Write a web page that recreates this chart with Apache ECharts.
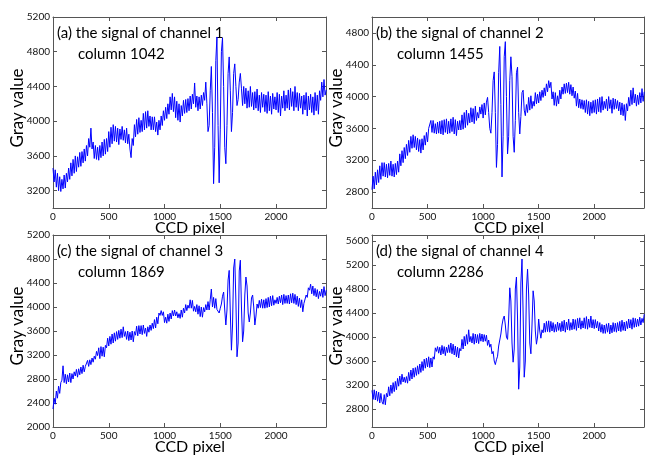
<!DOCTYPE html>
<html>
<head>
<meta charset="utf-8">
<script src="https://cdn.jsdelivr.net/npm/echarts@6/dist/echarts.min.js"></script>
<style>
  html, body { margin: 0; padding: 0; background: #fff; }
  #chart { width: 645px; height: 458px; }
</style>
</head>
<body>
<div id="chart"></div>
<script>
// sampling step along the CCD (pixels) and axis extent
const STEP = 10;
const X_MAX = 2448;
const xTicks = [0, 500, 1000, 1500, 2000];

// channel 1, column 1042 (one value every STEP pixels)
const grayA = [
  3460, 3300, 3440, 3240, 3400, 3200, 3360, 3190, 3330, 3220,
  3380, 3230, 3400, 3300, 3460, 3330, 3520, 3370, 3560, 3400,
  3600, 3420, 3590, 3470, 3640, 3480, 3650, 3520, 3680, 3540,
  3720, 3600, 3800, 3700, 3920, 3680, 3760, 3570, 3720, 3560,
  3700, 3550, 3720, 3580, 3760, 3600, 3790, 3620, 3800, 3650,
  3880, 3700, 3930, 3740, 3960, 3770, 3940, 3760, 3920, 3730,
  3910, 3790, 3940, 3780, 3900, 3750, 3920, 3740, 3850, 3680,
  3580, 3800, 3720, 3960, 3820, 4020, 3850, 4040, 3870, 4010,
  3880, 4090, 3900, 4110, 3920, 4120, 3940, 4060, 3900, 4050,
  3900, 4050, 3880, 3990, 3840, 4010, 3900, 4060, 3950, 4120,
  4010, 4160, 4030, 4200, 4080, 4280, 4130, 4320, 4110, 4280,
  4040, 4230, 4010, 4200, 3990, 4180, 4060, 4240, 4090, 4250,
  4100, 4260, 4120, 4290, 4140, 4310, 4200, 4440, 4160, 4290,
  4120, 4280, 4140, 4300, 4180, 4330, 4240, 4450, 4200, 3880,
  3950, 4350, 4630, 4100, 3280, 3700, 4700, 4970, 3950, 3290,
  3900, 4800, 4960, 4400, 3700, 3510, 3950, 4550, 4740, 4350,
  3880, 4100, 4550, 4660, 4400, 4180, 4250, 4450, 4550, 4380,
  4180, 4400, 4200, 4380, 4150, 4350, 4160, 4400, 4170, 4330,
  4130, 4340, 4150, 4370, 4120, 4300, 4100, 4330, 4160, 4310,
  4110, 4300, 4090, 4340, 4120, 4290, 4080, 4320, 4140, 4280,
  4130, 4330, 4100, 4310, 4060, 4290, 4150, 4350, 4120, 4300,
  4150, 4360, 4130, 4380, 4170, 4340, 4120, 4400, 4160, 4330,
  4120, 4320, 4150, 4290, 4080, 4300, 4130, 4330, 4060, 4290,
  4130, 4310, 4100, 4280, 4070, 4330, 4120, 4300, 4080, 4350,
  4240, 4450, 4280, 4480, 4300, 4360
];

// channel 2, column 1455
const grayB = [
  2830, 3000, 2840, 3050, 2890, 3080, 2920, 3130, 2960, 3170,
  3000, 3170, 2990, 3150, 2980, 3160, 3010, 3190, 3000, 3150,
  2990, 3160, 3020, 3190, 3050, 3280, 3130, 3320, 3170, 3360,
  3220, 3400, 3260, 3450, 3300, 3500, 3350, 3520, 3360, 3500,
  3330, 3480, 3310, 3460, 3290, 3470, 3330, 3510, 3390, 3550,
  3430, 3600, 3580, 3700, 3550, 3700, 3540, 3660, 3530, 3680,
  3540, 3690, 3530, 3700, 3520, 3710, 3550, 3720, 3530, 3690,
  3540, 3720, 3560, 3740, 3530, 3710, 3510, 3690, 3580, 3700,
  3580, 3770, 3590, 3800, 3610, 3830, 3640, 3790, 3670, 3860,
  3680, 3850, 3660, 3880, 3700, 3800, 3730, 3870, 3780, 3900,
  3730, 3920, 3770, 3930, 3990, 3800, 3600, 3540, 3800, 4200,
  4310, 3800, 3110, 3400, 4300, 4630, 3900, 2990, 3500, 4500,
  4690, 4000, 3280, 3500, 4200, 4500, 4250, 3500, 3300, 3700,
  4300, 4370, 3800, 3530, 3750, 4050, 4080, 3830, 3760, 3900,
  3800, 3990, 3830, 4010, 3850, 3940, 3880, 4050, 3910, 4030,
  3920, 4060, 3950, 4080, 3990, 4110, 4010, 4160, 4060, 4200,
  4110, 4180, 3970, 4060, 3890, 4050, 3880, 4010, 3910, 4080,
  3970, 4120, 4030, 4160, 4040, 4170, 4050, 4180, 4030, 4150,
  4010, 4120, 3980, 4070, 3880, 4040, 3860, 3970, 3850, 3960,
  3840, 3950, 3800, 3960, 3780, 3940, 3760, 3930, 3790, 3950,
  3800, 3960, 3780, 3970, 3810, 3990, 3800, 4000, 3830, 3940,
  3850, 3970, 3820, 4000, 3850, 3960, 3790, 3980, 3840, 3970,
  3850, 3950, 3820, 3930, 3770, 3920, 3760, 3900, 3700, 3910,
  3820, 3990, 3880, 4080, 3900, 4110, 3920, 4030, 3880, 4020,
  3900, 4050, 3920, 4100, 3940, 4060
];

// channel 3, column 1869
const grayC = [
  2300, 2480, 2380, 2600, 2480, 2680, 2560, 2740, 2780, 3020,
  2740, 2880, 2720, 2870, 2750, 2900, 2740, 2890, 2800, 2920,
  2850, 2960, 2830, 2970, 2870, 3000, 2890, 3030, 2920, 3010,
  2990, 3110, 3010, 3120, 3040, 3150, 3080, 3180, 3130, 3260,
  3190, 3320, 3140, 3340, 3180, 3330, 3170, 3360, 3320, 3480,
  3350, 3510, 3380, 3550, 3400, 3570, 3430, 3590, 3460, 3610,
  3480, 3630, 3490, 3670, 3510, 3590, 3460, 3600, 3440, 3580,
  3450, 3600, 3420, 3590, 3530, 3680, 3520, 3690, 3550, 3690,
  3540, 3700, 3560, 3650, 3510, 3670, 3580, 3700, 3610, 3730,
  3640, 3790, 3650, 3830, 3720, 3900, 3860, 3940, 3860, 3920,
  3740, 3830, 3730, 3880, 3760, 3900, 3800, 3940, 3850, 3950,
  3850, 3920, 3820, 3890, 3810, 3950, 3830, 3980, 3900, 4040,
  3940, 4030, 3980, 4120, 3980, 4110, 3930, 4010, 3920, 4040,
  3880, 4020, 3840, 4000, 3830, 3990, 3920, 4040, 3950, 4090,
  3950, 4120, 4300, 4000, 4160, 3980, 4140, 3960, 3990, 3900,
  3980, 4050, 4180, 4250, 3950, 3700, 3950, 4450, 4610, 3900,
  3280, 3700, 4650, 4800, 4100, 3170, 3400, 4600, 4780, 4000,
  3420, 3600, 4200, 4500, 4350, 3900, 3750, 3900, 4150, 4200,
  4000, 3700, 3850, 4050, 3980, 4110, 3990, 4130, 3980, 4120,
  3980, 4140, 3990, 4160, 4000, 4180, 4020, 4190, 4030, 4120,
  4060, 4160, 4050, 4180, 4070, 4200, 4040, 4210, 4060, 4190,
  4060, 4200, 4050, 4220, 4070, 4230, 4060, 4210, 4040, 4180,
  4010, 4150, 3990, 4120, 3920, 4060, 4030, 4200, 4160, 4320,
  4280, 4380, 4220, 4350, 4190, 4310, 4170, 4290, 4140, 4260,
  4180, 4300, 4160, 4340, 4190, 4280
];

// channel 4, column 2286
const grayD = [
  3110, 2960, 3120, 2950, 3100, 2930, 3080, 2900, 3060, 2920,
  2880, 3040, 2870, 3060, 3000, 3170, 3020, 3200, 3060, 3240,
  3090, 3260, 3120, 3310, 3180, 3350, 3210, 3380, 3250, 3330,
  3240, 3340, 3230, 3410, 3270, 3450, 3300, 3480, 3330, 3490,
  3360, 3520, 3380, 3550, 3410, 3590, 3440, 3630, 3480, 3650,
  3500, 3670, 3490, 3650, 3500, 3670, 3630, 3820, 3760, 3840,
  3730, 3830, 3700, 3860, 3720, 3840, 3690, 3830, 3740, 3870,
  3740, 3900, 3720, 3880, 3700, 3850, 3670, 3830, 3650, 3810,
  3770, 3960, 3800, 4010, 3850, 4040, 3880, 4120, 3920, 4010,
  3900, 4060, 3880, 4050, 3900, 4040, 3890, 4060, 3930, 4050,
  3920, 4040, 3930, 4030, 3860, 3950, 3830, 3880, 3720, 3760,
  3600, 3540, 3620, 3680, 3850, 3950, 4050, 4200, 4300, 4350,
  4200, 4000, 3960, 4300, 4820, 4600, 3900, 3580, 3800, 4800,
  5000, 4300, 3130, 3500, 4900, 5300, 4400, 3330, 3600, 4800,
  5130, 4700, 3900, 3720, 4200, 4770, 4600, 4100, 3880, 4000,
  4300, 4100, 3980, 4120, 4070, 4230, 4080, 4260, 4090, 4270,
  4080, 4260, 4100, 4240, 4080, 4210, 4090, 4250, 4110, 4230,
  4090, 4260, 4100, 4280, 4080, 4250, 4120, 4300, 4110, 4240,
  4120, 4300, 4130, 4290, 4110, 4310, 4150, 4320, 4130, 4270,
  4150, 4320, 4140, 4340, 4130, 4300, 4160, 4350, 4150, 4290,
  4140, 4290, 4150, 4260, 4100, 4240, 4080, 4210, 4060, 4200,
  4060, 4220, 4080, 4230, 4050, 4200, 4070, 4240, 4090, 4230,
  4080, 4240, 4100, 4260, 4090, 4280, 4110, 4250, 4100, 4260,
  4140, 4300, 4150, 4290, 4130, 4320, 4160, 4310, 4170, 4300,
  4180, 4330, 4200, 4310, 4240, 4380
];

// y tick labels of each panel
const yTicksA = [3200, 3600, 4000, 4400, 4800, 5200];
const yTicksB = [2800, 3200, 3600, 4000, 4400, 4800];
const yTicksC = [2000, 2400, 2800, 3200, 3600, 4000, 4400, 4800, 5200];
const yTicksD = [2800, 3200, 3600, 4000, 4400, 4800, 5200, 5600];

const titles = ['(a) the signal of channel 1', '(b) the signal of channel 2',
                '(c) the signal of channel 3', '(d) the signal of channel 4'];
const columns = ['column 1042', 'column 1455', 'column 1869', 'column 2286'];

const FONT = 'Lato';
const FRAME = '#555';

const panels = [
  { left: 53,  top: 17,  w: 273, h: 191, data: grayA, ymin: 3000, ymax: 5200, yticks: yTicksA },
  { left: 372, top: 17,  w: 272, h: 191, data: grayB, ymin: 2600, ymax: 5000, yticks: yTicksB },
  { left: 53,  top: 235, w: 273, h: 192, data: grayC, ymin: 2000, ymax: 5200, yticks: yTicksC },
  { left: 372, top: 235, w: 272, h: 192, data: grayD, ymin: 2500, ymax: 5700, yticks: yTicksD }
];

const grids = [], xAxes = [], yAxes = [], series = [], texts = [];
const plain = v => String(v);

panels.forEach((p, i) => {
  grids.push({ left: p.left, top: p.top, width: p.w, height: p.h });

  const line = { show: true, onZero: false, lineStyle: { color: FRAME, width: 1 } };
  const tickX = { inside: true, length: 4, customValues: xTicks, lineStyle: { color: FRAME } };
  const tickY = { inside: true, length: 4, customValues: p.yticks, lineStyle: { color: FRAME } };
  const label = { fontSize: 10, color: '#111', fontFamily: FONT, formatter: plain };

  xAxes.push({
    gridIndex: i, type: 'value', min: 0, max: X_MAX, position: 'bottom',
    axisLine: line, axisTick: tickX, splitLine: { show: false },
    axisLabel: Object.assign({ customValues: xTicks, margin: 4 }, label)
  });
  xAxes.push({
    gridIndex: i, type: 'value', min: 0, max: X_MAX, position: 'top',
    axisLine: line, axisTick: tickX, splitLine: { show: false }, axisLabel: { show: false }
  });
  yAxes.push({
    gridIndex: i, type: 'value', min: p.ymin, max: p.ymax, position: 'left',
    axisLine: line, axisTick: tickY, splitLine: { show: false },
    axisLabel: Object.assign({ customValues: p.yticks, margin: 3 }, label)
  });
  yAxes.push({
    gridIndex: i, type: 'value', min: p.ymin, max: p.ymax, position: 'right',
    axisLine: line, axisTick: tickY, splitLine: { show: false }, axisLabel: { show: false }
  });

  series.push({
    type: 'line', xAxisIndex: 2 * i, yAxisIndex: 2 * i,
    data: p.data.map((v, k) => [k * STEP, v]),
    symbol: 'none', clip: true,
    lineStyle: { color: '#0000ff', width: 1 }
  });

  // panel captions
  texts.push({ type: 'text', x: p.left + 4, y: p.top + 16,
    style: { text: titles[i], fontSize: 15, fontFamily: FONT, fill: '#000', align: 'left', verticalAlign: 'middle' } });
  texts.push({ type: 'text', x: p.left + 25, y: p.top + 37,
    style: { text: columns[i], fontSize: 15, fontFamily: FONT, fill: '#000', align: 'left', verticalAlign: 'middle' } });
  // axis names
  texts.push({ type: 'text', x: p.left - 35, y: p.top + 91, rotation: Math.PI / 2,
    style: { text: 'Gray value', fontSize: 17, fontFamily: FONT, fill: '#000', align: 'center', verticalAlign: 'middle' } });
  texts.push({ type: 'text', x: p.left + 137, y: p.top + p.h + 20,
    style: { text: 'CCD pixel', fontSize: 16, fontFamily: FONT, fill: '#000', align: 'center', verticalAlign: 'middle' } });
});

const chart = echarts.init(document.getElementById('chart'));
chart.setOption({
  animation: false,
  backgroundColor: '#fff',
  grid: grids,
  xAxis: xAxes,
  yAxis: yAxes,
  series: series,
  graphic: texts
});
</script>
</body>
</html>
